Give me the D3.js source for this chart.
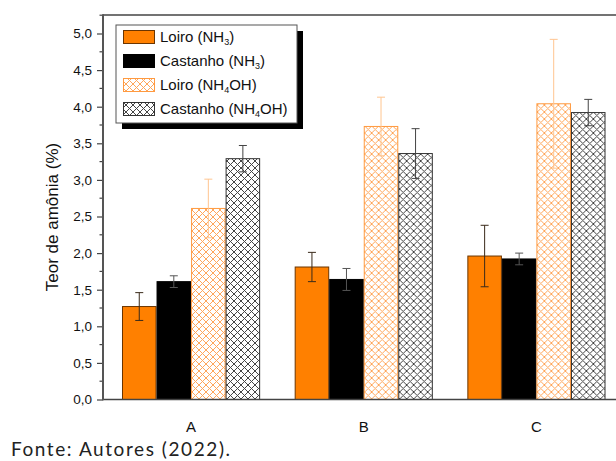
<!DOCTYPE html>
<html><head><meta charset="utf-8">
<script src="https://cdn.jsdelivr.net/npm/d3@7"></script>
<style>body{margin:0;background:#fff}svg{display:block}</style>
</head><body>
<script>
const categories = ["A", "B", "C"];
const seriesNames = ["Loiro (NH3)", "Castanho (NH3)", "Loiro (NH4OH)", "Castanho (NH4OH)"];
const loiroNH3 = [1.27, 1.81, 1.96];
const loiroNH3Err = [0.19, 0.20, 0.42];
const castanhoNH3 = [1.61, 1.64, 1.92];
const castanhoNH3Err = [0.08, 0.15, 0.08];
const loiroNH4OH = [2.61, 3.73, 4.04];
const loiroNH4OHErr = [0.40, 0.40, 0.88];
const castanhoNH4OH = [3.29, 3.36, 3.92];
const castanhoNH4OHErr = [0.18, 0.34, 0.18];
const yTicks = [0, 0.5, 1, 1.5, 2, 2.5, 3, 3.5, 4, 4.5, 5];

(function () {
const W = 616, H = 461;
const svg = d3.select("body").append("svg").attr("width", W).attr("height", H);
const font = "Liberation Sans, Arial, sans-serif";

const defs = svg.append("defs");
function hatch(id, color, bg) {
  const p = defs.append("pattern").attr("id", id).attr("patternUnits", "userSpaceOnUse")
    .attr("width", 7).attr("height", 7);
  p.append("rect").attr("width", 7).attr("height", 7).attr("fill", bg);
  p.append("path").attr("d", "M-1,1 L1,-1 M0,7 L7,0 M6,8 L8,6 M-1,6 L1,8 M0,0 L7,7 M6,-1 L8,1")
    .attr("stroke", color).attr("stroke-width", 1).attr("fill", "none");
}
hatch("hOrange", "#ffa65a", "#fff");
hatch("hBlack", "#444", "#fff");

const styles = [
  {fill: "#ff8000", stroke: "#6b3500", err: "#3a2a1a"},
  {fill: "#000", stroke: "#000", err: "#555"},
  {fill: "url(#hOrange)", stroke: "#ff9a40", err: "#ffc590"},
  {fill: "url(#hBlack)", stroke: "#333", err: "#444"}
];
const values = [loiroNH3, castanhoNH3, loiroNH4OH, castanhoNH4OH];
const errs = [loiroNH3Err, castanhoNH3Err, loiroNH4OHErr, castanhoNH4OHErr];

const mLeft = 103, mTop = 15, mBottom = 399.5;
const y = d3.scaleLinear().domain([0, 5]).range([mBottom, 33.5]);
const x0 = d3.scaleBand().domain(categories).range([mLeft, 624.5]).paddingInner(0.2).paddingOuter(0.11);
const x1 = d3.scaleBand().domain(d3.range(4)).range([0, x0.bandwidth()]);

categories.forEach((c, ci) => {
  const g = svg.append("g").attr("transform", `translate(${x0(c)},0)`);
  values.forEach((vals, si) => {
    const v = vals[ci], e = errs[si][ci], st = styles[si];
    const bx = x1(si), bw = x1.bandwidth();
    g.append("rect").attr("x", bx + 0.5).attr("y", y(v)).attr("width", bw - 1)
      .attr("height", y(0) - y(v)).attr("fill", st.fill).attr("stroke", st.stroke).attr("stroke-width", 1);
    const cx = bx + bw / 2;
    const eg = g.append("g").attr("stroke", st.err).attr("stroke-width", 1);
    eg.append("line").attr("x1", cx).attr("x2", cx).attr("y1", y(v + e)).attr("y2", y(v - e));
    eg.append("line").attr("x1", cx - 4).attr("x2", cx + 4).attr("y1", y(v + e)).attr("y2", y(v + e));
    eg.append("line").attr("x1", cx - 4).attr("x2", cx + 4).attr("y1", y(v - e)).attr("y2", y(v - e));
  });
});

svg.append("line").attr("x1", mLeft).attr("x2", W).attr("y1", mTop).attr("y2", mTop).attr("stroke", "#444").attr("stroke-width", 1.5);
svg.append("line").attr("x1", mLeft).attr("x2", W).attr("y1", mBottom).attr("y2", mBottom).attr("stroke", "#444").attr("stroke-width", 1.5);

const yAxis = svg.append("g").attr("transform", `translate(${mLeft},0)`)
  .call(d3.axisLeft(y).tickValues(yTicks).tickSize(6).tickPadding(5)
    .tickFormat(d => d3.format(".1f")(d).replace(".", ",")));
yAxis.select(".domain").remove();
yAxis.selectAll(".tick line").attr("stroke", "#444").attr("stroke-width", 1.2);
yAxis.selectAll("text").attr("font-family", font).attr("font-size", 13.5).attr("fill", "#111");
const minor = d3.range(0.25, 5.3, 0.5);
yAxis.selectAll(".minor").data(minor).enter().append("line").attr("class", "minor")
  .attr("x1", -3.5).attr("x2", 0).attr("y1", d => y(d)).attr("y2", d => y(d))
  .attr("stroke", "#444").attr("stroke-width", 1.2);
svg.append("line").attr("x1", mLeft).attr("x2", mLeft).attr("y1", mTop - 0.75).attr("y2", mBottom + 0.75)
  .attr("stroke", "#555").attr("stroke-width", 2);

svg.selectAll(".xl").data(categories).enter().append("text")
  .attr("x", d => x0(d) + x0.bandwidth() / 2).attr("y", 432)
  .attr("text-anchor", "middle").attr("font-family", font).attr("font-size", 15).attr("fill", "#111").text(d => d);

svg.append("text").attr("transform", "translate(58,217) rotate(-90)").attr("text-anchor", "middle")
  .attr("font-family", font).attr("font-size", 17).attr("fill", "#111").text("Teor de amônia (%)");

const lg = svg.append("g");
lg.append("rect").attr("x", 122).attr("y", 31).attr("width", 181).attr("height", 98).attr("fill", "#000");
lg.append("rect").attr("x", 116).attr("y", 25).attr("width", 181).attr("height", 98).attr("fill", "#fff").attr("stroke", "#555").attr("stroke-width", 1);
const rowsY = [37, 61, 85, 109];
const labelParts = [["Loiro (NH", "3", ")"], ["Castanho (NH", "3", ")"], ["Loiro (NH", "4", "OH)"], ["Castanho (NH", "4", "OH)"]];
seriesNames.forEach((n, i) => {
  const st = styles[i];
  lg.append("rect").attr("x", 123.5).attr("y", rowsY[i] - 6.5).attr("width", 31).attr("height", 13)
    .attr("fill", st.fill).attr("stroke", st.stroke).attr("stroke-width", 1);
  const t = lg.append("text").attr("x", 160).attr("y", rowsY[i] + 5).attr("font-family", font)
    .attr("font-size", 15).attr("fill", "#111");
  t.append("tspan").text(labelParts[i][0]);
  t.append("tspan").attr("dy", 3).attr("font-size", 9).text(labelParts[i][1]);
  t.append("tspan").attr("dy", -3).text(labelParts[i][2]);
});

svg.append("text").attr("x", 11).attr("y", 456).attr("font-family", "Lato, Open Sans, sans-serif")
  .attr("font-size", 19).attr("fill", "#222").attr("textLength", 219).attr("lengthAdjust", "spacing")
  .text("Fonte: Autores (2022).");
})();
</script>
</body></html>
